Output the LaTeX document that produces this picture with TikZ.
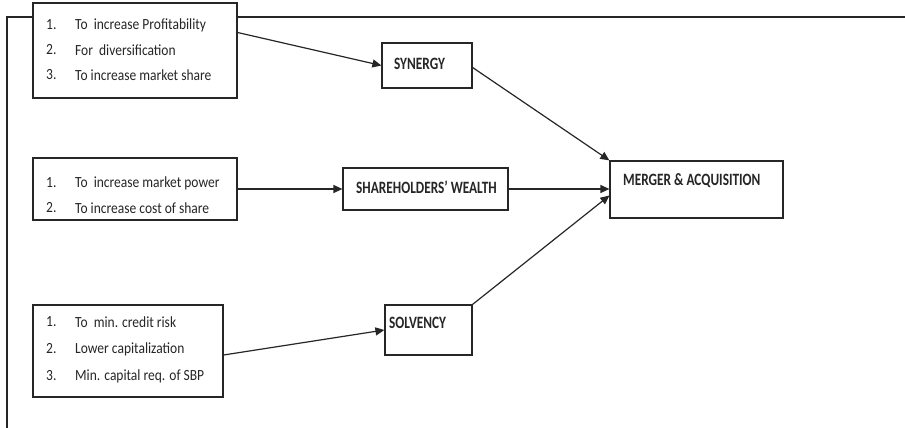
\documentclass[tikz,border=0pt]{standalone}
\usepackage{fontspec}
\setmainfont{Carlito}
\usetikzlibrary{arrows.meta}
\definecolor{ink}{HTML}{262626}
\newcommand{\tallA}[1]{\scalebox{1}[1.15]{#1}}
\newcommand{\tallB}[1]{\scalebox{1}[1.3]{#1}}
\tikzset{
  box/.style={draw=ink, line width=1.2pt, fill=white, inner sep=0pt},
  item/.style={anchor=west, inner sep=0pt, text=ink, font=\fontsize{13.5}{16}\selectfont},
  lbl/.style={anchor=west, inner sep=0pt, text=ink, font=\fontsize{13.3}{16}\selectfont\bfseries},
  conn/.style={draw=ink, line width=1.2pt, -{Triangle[length=9pt,width=8pt]}}
}
\begin{document}
\begin{tikzpicture}[x=1pt,y=-1pt]
\useasboundingbox (0,0) rectangle (905,428);
% outer frame
\coordinate (fb) at (7,428);
\coordinate (ftl) at (7,17);
\coordinate (ftr) at (905,17);
\draw[draw=ink, line width=1.1pt] (fb) -- (ftl) -- (ftr);
% left boxes
\node[box, minimum width=204pt, minimum height=95pt] (b1) at (135,50.5) {};
\node[box, minimum width=204pt, minimum height=62pt] (b2) at (135,189) {};
\node[box, minimum width=190pt, minimum height=92pt] (b3) at (128,351) {};
% items
\node[item] (n11) at (46,25) {\tallA{1.}};
\node[item] (t11) at (75,25) {\tallA{To\ \ increase Profitability}};
\node[item] (n12) at (46,50) {\tallA{2.}};
\node[item] (t12) at (75,50) {\tallA{For\ \ diversification}};
\node[item] (n13) at (46,75) {\tallA{3.}};
\node[item] (t13) at (75,75) {\tallA{To increase market share}};
\node[item] (n21) at (46,183) {\tallA{1.}};
\node[item] (t21) at (75,183) {\tallA{To\ \ increase market power}};
\node[item] (n22) at (46,208) {\tallA{2.}};
\node[item] (t22) at (75,208) {\tallA{To increase cost of share}};
\node[item] (n31) at (46,322) {\tallA{1.}};
\node[item] (t31) at (75,322) {\tallA{To\ \ min. credit risk}};
\node[item] (n32) at (46,349) {\tallA{2.}};
\node[item] (t32) at (75,349) {\tallA{Lower capitalization}};
\node[item] (n33) at (46,376) {\tallA{3.}};
\node[item] (t33) at (75,376) {\tallA{Min. capital req. of SBP}};
% middle boxes
\node[box, minimum width=90pt, minimum height=45pt] (syn) at (427,65.5) {};
\node[lbl] (synt) at (394,64) {\tallB{SYNERGY}};
\node[box, minimum width=165pt, minimum height=42pt] (sw) at (425.5,189) {};
\node[lbl] (swt) at (356,187) {\tallB{SHAREHOLDERS' WEALTH}};
\node[box, minimum width=87pt, minimum height=50pt] (solv) at (428.5,330) {};
\node[lbl] (solvt) at (389,323) {\tallB{SOLVENCY}};
% target
\node[box, minimum width=173pt, minimum height=57pt] (ma) at (696.5,189.5) {};
\node[lbl] (mat) at (623,181) {\tallB{MERGER \& ACQUISITION}};
% connectors
\draw[conn] ([yshift=18pt]b1.east) -- (syn.west);
\draw[conn] (b2.east) -- (sw.west);
\draw[conn] ([yshift=-4pt]b3.east) -- (solv.west);
\draw[conn] ([yshift=-2pt]syn.east) -- (ma.north west);
\draw[conn] (sw.east) -- (sw.east -| ma.west);
\draw[conn] (solv.north east) -- ([yshift=-6pt]ma.west);
\end{tikzpicture}
\end{document}
